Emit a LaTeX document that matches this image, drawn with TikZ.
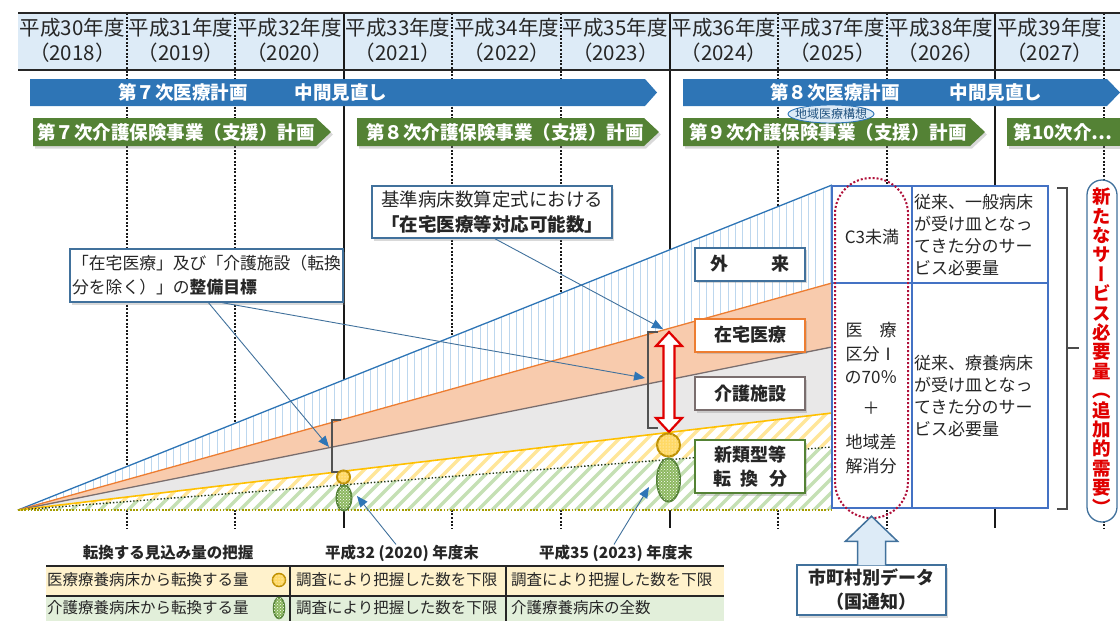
\documentclass[tikz,border=0pt]{standalone}
\usepackage{fontspec}
\setmainfont{Noto Sans CJK JP}
\newfontfamily\tatejp{Noto Sans CJK JP}[RawFeature=+vert]
\usetikzlibrary{arrows.meta,shadows,patterns}

\definecolor{hdrbg}{HTML}{DDEBF7}
\definecolor{medblue}{HTML}{2E75B6}
\definecolor{kaigo}{HTML}{548235}
\definecolor{callblue}{HTML}{41719C}
\definecolor{hatchblue}{HTML}{BDD7EE}
\definecolor{zaitaku}{HTML}{ED7D31}
\definecolor{zaitakufill}{HTML}{F8CBAD}
\definecolor{shisetsu}{HTML}{7A6E6E}
\definecolor{shisetsufill}{HTML}{E9E8E8}
\definecolor{tenkan}{HTML}{FFC000}
\definecolor{tenkanfill}{HTML}{FFE699}
\definecolor{tenkanedge}{HTML}{BF9000}
\definecolor{tenkancore}{HTML}{FFD966}
\definecolor{ryoyofill}{HTML}{C5E0B4}
\definecolor{ryoyocore}{HTML}{8DB860}
\definecolor{tabblue}{HTML}{4472C4}
\definecolor{needred}{HTML}{E00000}
\definecolor{dotred}{HTML}{B0103A}
\definecolor{rowyellow}{HTML}{FFF2CC}
\definecolor{rowgreen}{HTML}{E2EFDA}

\begin{document}
\begin{tikzpicture}[x=1pt, y=-1pt, >={Triangle[length=11pt, width=9pt]},
    every node/.style={inner sep=0pt, text=black!85},
    grid/.style={line width=1.9pt, black!90},
    griddot/.style={grid, dash pattern=on 2pt off 1.6pt},
    hdr/.style={align=center, font=\fontsize{20.5}{25}\selectfont},
    bartext/.style={text=white, font=\bfseries\fontsize{18.5}{20}\selectfont},
    softshadow/.style={drop shadow={shadow xshift=2pt, shadow yshift=-2.5pt, opacity=0.3}},
    lbox/.style={draw, line width=2pt, fill=white, softshadow, minimum width=110pt, minimum height=33pt, align=center, font=\bfseries\fontsize{18}{24}\selectfont},
    callout/.style={draw=callblue, line width=1.5pt, fill=white, softshadow},
    callline/.style={->, draw=callblue, line width=0.9pt, >={Triangle[length=11pt, width=9pt, color=medblue]}},
    gaptag/.style={black!68, line width=2.5pt},
    cell/.style={font=\fontsize{17}{22}\selectfont},
    tabhead/.style={font=\bfseries\fontsize{15.5}{18}\selectfont},
    tabtext/.style={anchor=west, font=\fontsize{15.5}{18}\selectfont},
    tabrule/.style={black!85, line width=2pt},
    yelcirc/.style={draw=tenkanedge, line width=2pt, fill=tenkancore, postaction={pattern=dots, pattern color=white}},
    grnoval/.style={draw=kaigo, line width=2pt, fill=ryoyocore, postaction={pattern=crosshatch dots, pattern color=white}},
  ]
  \useasboundingbox (0,0) rectangle (1120,621);
  \clip (0,0) rectangle (1120,621);

  % header of fiscal years
  \fill[hdrbg] (18,13) rectangle (1120,70);
  \foreach \i in {1,2,4,5,7,8,10} \draw[griddot] (18+108.6*\i,13) -- (18+108.6*\i,528);
  \foreach \i in {3,6,9} \draw[grid] (18+108.6*\i,13) -- (18+108.6*\i,528);
  \draw[line width=1.5pt, black!85] (18,13) -- (1120,13) (18,70) -- (1120,70);
  \foreach \i [evaluate=\i as \hy using int(30+\i), evaluate=\i as \wy using int(2018+\i)] in {0,...,9}
    \node[hdr] (nendo\i) at (72.3+108.6*\i,40) {平成\hy 年度\\（\wy）};

  % plan bars
  \fill[medblue] (30,79) -- (645,79) -- (657,92.5) -- (645,106) -- (30,106) -- cycle;
  \fill[medblue] (683,79) -- (1107,79) -- (1120,92.5) -- (1107,106) -- (683,106) -- cycle;
  \node[bartext] (iryo7) at (183,92.5) {第７次医療計画};
  \node[bartext] (minaoshi7) at (341,92.5) {中間見直し};
  \node[bartext] (iryo8) at (835,92.5) {第８次医療計画};
  \node[bartext] (minaoshi8) at (996,92.5) {中間見直し};
  \fill[kaigo, softshadow] (33,118) -- (316,118) -- (331,132) -- (316,146) -- (33,146) -- cycle;
  \fill[kaigo, softshadow] (357,118) -- (644,118) -- (659,132) -- (644,146) -- (357,146) -- cycle;
  \fill[kaigo, softshadow] (683,118) -- (970,118) -- (985,132) -- (970,146) -- (683,146) -- cycle;
  \fill[kaigo, softshadow] (1007,118) -- (1120,118) -- (1120,146) -- (1007,146) -- cycle;
  \node[bartext] (kaigo7) at (176,132) {第７次介護保険事業（支援）計画};
  \node[bartext] (kaigo8) at (505,132) {第８次介護保険事業（支援）計画};
  \node[bartext] (kaigo9) at (828,132) {第９次介護保険事業（支援）計画};
  \node[bartext] (kaigo10) at (1063,132) {第10次介…};
  \draw[medblue, line width=0.9pt, fill=hdrbg] (831,114) ellipse [x radius=43, y radius=9];
  \node[text=medblue!70!black, font=\fontsize{12}{13}\selectfont] (koso) at (831,114) {地域医療構想};

  % stacked service volumes
  \begin{scope}
    \clip (18,510) -- (832,185) -- (832,283) -- cycle;
    \fill[white] (0,150) rectangle (832,520);
    \foreach \x in {20,27.3,...,832} \draw[hatchblue, line width=0.8pt] (\x,180) -- (\x,520);
  \end{scope}
  \fill[zaitakufill] (18,510) -- (832,283) -- (832,347) -- cycle;
  \fill[shisetsufill] (18,510) -- (832,347) -- (832,413) -- cycle;
  \begin{scope}
    \clip (18,510) -- (832,413) -- (832,447) -- cycle;
    \fill[white] (0,400) rectangle (832,520);
    \foreach \x in {-120,-106,...,840} \draw[tenkanfill, line width=3.5pt] (\x,520) -- +(120,-120);
  \end{scope}
  \begin{scope}
    \clip (18,510) -- (832,447) -- (832,510) -- cycle;
    \fill[white] (0,430) rectangle (832,520);
    \foreach \x in {-120,-106,...,840} \draw[ryoyofill, line width=3.5pt] (\x,520) -- +(120,-120);
  \end{scope}
  \draw[medblue, line width=1.3pt] (18,510) -- (832,185);
  \draw[zaitaku, line width=1.3pt] (18,510) -- (832,283);
  \draw[shisetsu, line width=1.3pt] (18,510) -- (832,347);
  \draw[tenkan, line width=1.6pt] (18,510) -- (832,413);
  \draw[black!55!kaigo, line width=1.4pt, dash pattern=on 1.4pt off 2pt] (18,510) -- (832,447);
  \draw[olive!80!yellow, line width=1.6pt, dash pattern=on 1.6pt off 1.6pt] (18,510) -- (832,510);

  % service need table
  \draw[tabblue, line width=1.3pt, fill=white] (832,186) rectangle (1048,508);
  \draw[tabblue, line width=1.3pt] (832,283) -- (1048,283) (912,186) -- (912,508);
  \node[cell] (c3) at (872,237) {C3未満};
  \node[cell, align=center, font=\fontsize{17}{23.5}\selectfont] (kubun) at (871,398) {医　療\\区分Ⅰ\\の70％\\[7pt]＋\\[11pt]地域差\\解消分};
  \node[cell, align=left, anchor=west] (ippan) at (914,235) {従来、一般病床\\が受け皿となっ\\てきた分のサー\\ビス必要量};
  \node[cell, align=left, anchor=west] (ryoyo) at (914,396) {従来、療養病床\\が受け皿となっ\\てきた分のサー\\ビス必要量};
  \draw[dotred, line width=2pt, dash pattern=on 2pt off 2pt, rounded corners=36pt] (835,178) rectangle (908,518);
  \draw[black!70, line width=1.3pt] (1057,188) -- (1067,188) -- (1067,509) -- (1057,509) (1067,348) -- (1079,348);
  \node[draw=callblue, line width=1.3pt, fill=white, rounded corners=15pt, minimum width=30pt, minimum height=342pt,
        align=center, text=needred, font=\tatejp\bfseries\fontsize{18.5}{19.4}\selectfont] (need) at (1102,351)
        {新\\た\\な\\サ\\ー\\ビ\\ス\\必\\要\\量\\（\\追\\加\\的\\需\\要\\）};

  % labels of the bands
  \node[lbox, draw=callblue] (gairai) at (750,264) {外\hspace{44pt}来};
  \node[lbox, draw=zaitaku] (zaitakubox) at (750,335) {在宅医療};
  \node[lbox, draw=shisetsu] (shisetsubox) at (750,393.5) {介護施設};
  \node[lbox, draw=kaigo, minimum height=53pt] (tenkanbox) at (750,466.5) {新類型等\\転\hspace{10pt}換\hspace{10pt}分};

  % targets at 2020 and 2023
  \draw[gaptag] (341,420) -- (332,420) -- (332,472) -- (341,472);
  \draw[gaptag] (658,332) -- (648,332) -- (648,428) -- (658,428);
  \draw[needred, line width=2.2pt, fill=white] (669,332) -- (682,346) -- (674.5,346) -- (674.5,418) -- (682,418)
        -- (669,432) -- (656,418) -- (663.5,418) -- (663.5,346) -- (656,346) -- cycle;
  \draw[yelcirc] (343.5,477) circle (6.5);
  \draw[grnoval] (344,498) ellipse [x radius=7.5, y radius=12.5];
  \draw[yelcirc] (668.5,445) circle (11.5);
  \draw[grnoval] (668.5,480) ellipse [x radius=11.5, y radius=21.5];
  \coordinate (zt23) at (663,329);
  \coordinate (tagL) at (329,447);
  \coordinate (tagR) at (645,378);
  \coordinate (ov20) at (357,496);
  \coordinate (ov23) at (649,487);

  % callouts
  \node[callout, minimum width=240pt, minimum height=52pt, align=center, font=\fontsize{18.5}{25}\selectfont] (kijun) at (492,212)
        {基準病床数算定式における\\\textbf{「在宅医療等対応可能数」}};
  \node[callout, minimum width=273pt, minimum height=53pt, align=left, font=\fontsize{16.8}{24}\selectfont] (seibi) at (206.5,275.5)
        {「在宅医療」及び「介護施設（転換\\分を除く）」の\textbf{整備目標}};
  \draw[callline] ([xshift=3pt]kijun.south) -- (zt23);
  \draw[callline] ([xshift=2pt]seibi.south) -- (tagL);
  \draw[callline] ([xshift=16pt]seibi.south) -- (tagR);

  % conversion table
  \node[tabhead] (mikomi) at (168,553) {転換する見込み量の把握};
  \node[tabhead] (h20) at (402,553) {平成32 (2020) 年度末};
  \node[tabhead] (h23) at (616,553) {平成35 (2023) 年度末};
  \draw[callline] ([xshift=-6pt]h20.north) -- (ov20);
  \draw[callline] ([xshift=-2pt]h23.north) -- (ov23);
  \fill[rowyellow] (46,566) rectangle (724,595);
  \fill[rowgreen] (46,596) rectangle (724,621);
  \draw[tabrule] (46,565.5) -- (724,565.5) (46,595.5) -- (724,595.5);
  \draw[tabrule, line width=1.5pt] (290,565) -- (290,621) (506,565) -- (506,621);
  \node[tabtext] (iryoconv) at (47,580) {医療療養病床から転換する量};
  \node[tabtext] (iryo20) at (296,580) {調査により把握した数を下限};
  \node[tabtext] (iryo23) at (511,580) {調査により把握した数を下限};
  \node[tabtext] (kaigoconv) at (47,608) {介護療養病床から転換する量};
  \node[tabtext] (kaigo20) at (296,608) {調査により把握した数を下限};
  \node[tabtext] (kaigo23) at (511,608) {介護療養病床の全数};
  \draw[yelcirc, line width=1.5pt] (279,580) circle (6.5);
  \draw[grnoval, line width=1.5pt] (279,608) ellipse [x radius=5.5, y radius=10.5];

  % municipal data
  \node[draw=callblue, line width=1.5pt, fill=white, softshadow, minimum width=149pt, minimum height=50pt, align=center,
        font=\bfseries\fontsize{18}{24}\selectfont] (shichoson) at (871.5,590) {市町村別データ\\（国通知）};
  \draw[callblue, line width=1.5pt, fill=hdrbg] ([xshift=-14pt, yshift=-1pt]shichoson.north) -- ++(0,-24) -- ++(-12,0)
        -- ++(26,-25) -- ++(26,25) -- ++(-12,0) -- ++(0,24);
\end{tikzpicture}
\end{document}
